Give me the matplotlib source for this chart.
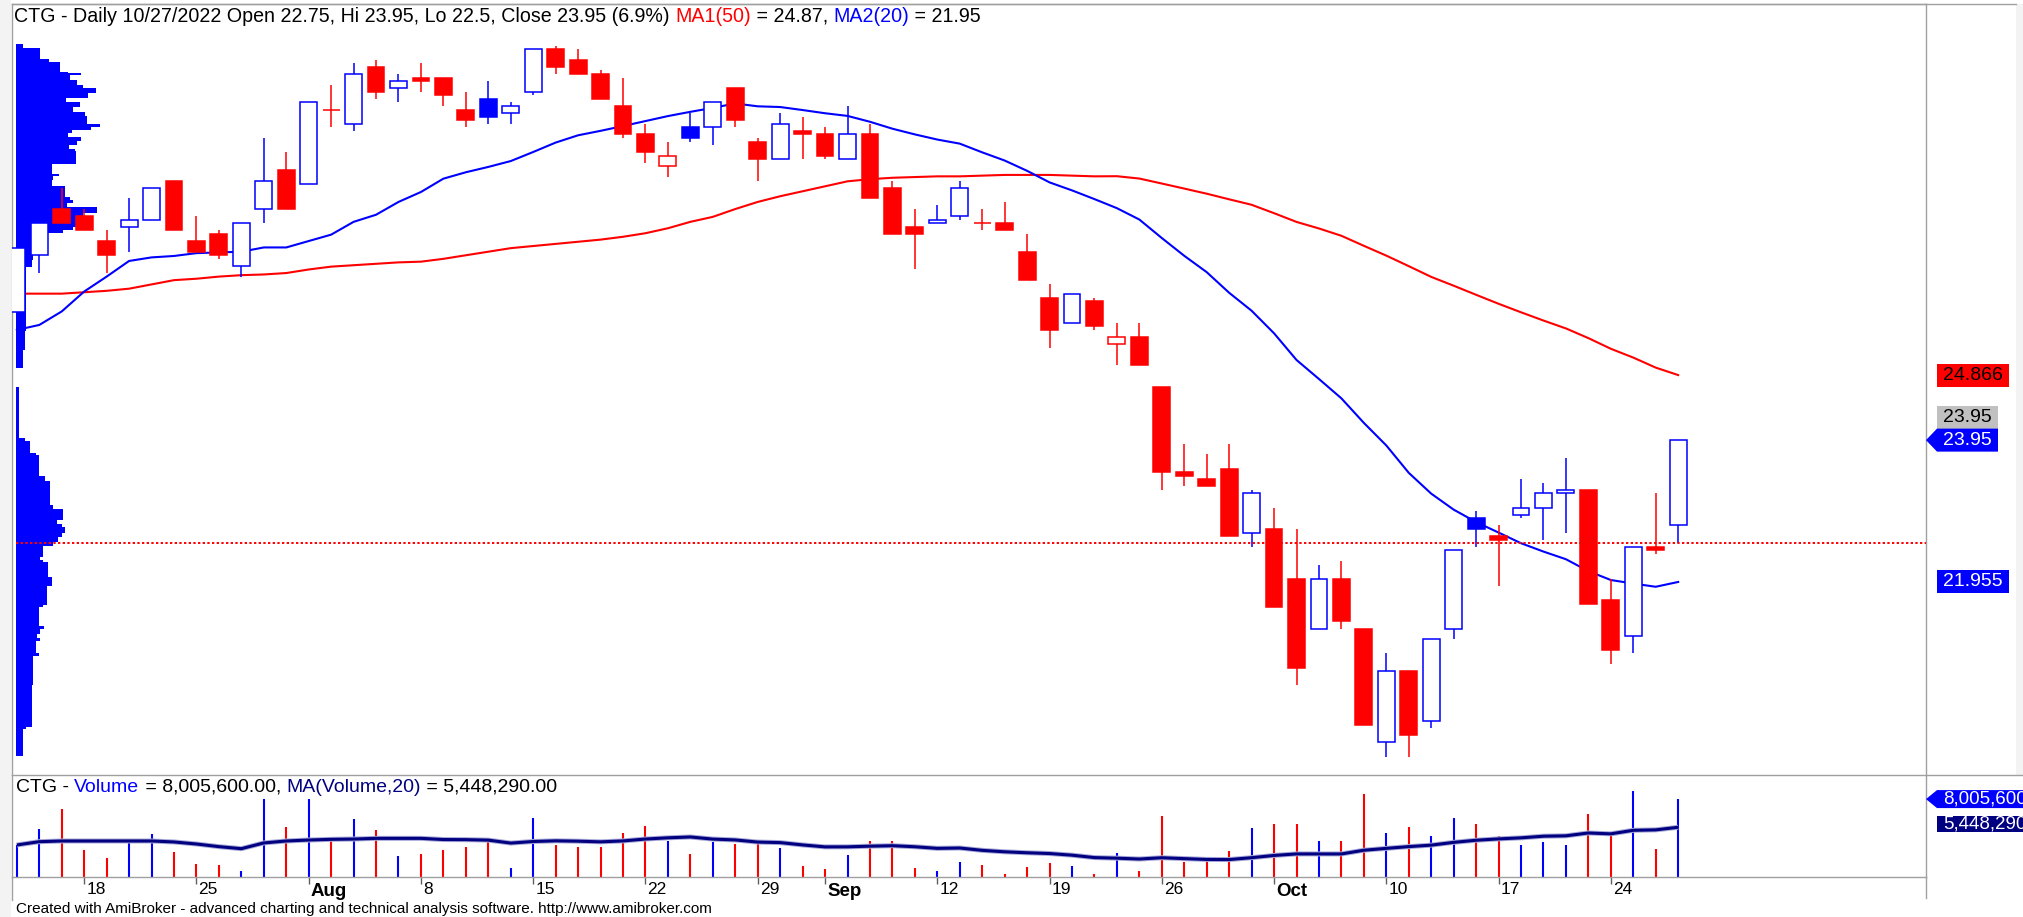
import matplotlib
matplotlib.use('Agg')
import matplotlib.pyplot as plt
import numpy as np
import pandas as pd
from matplotlib.patches import Rectangle, Polygon
from matplotlib.lines import Line2D
from matplotlib.transforms import IdentityTransform, blended_transform_factory

W, H = 2023, 917
RED = '#FF0000'
BLUE = '#0000FF'
NAVY = '#000080'
FRAME = '#A0A0A0'
FONT = 'Liberation Sans'

# trading days (Sep 1-2 were holidays)
dates = pd.bdate_range('2022-07-13', '2022-10-27')
dates = dates[~dates.isin(pd.to_datetime(['2022-09-01', '2022-09-02']))]

opens = [25.75, 26.55, 27.2, 27.1, 26.75, 26.95, 27.05, 27.6, 26.75, 26.85, 26.4,
         27.2, 27.75, 27.55, 28.6, 28.4, 29.2, 28.9, 29.05, 29.05, 28.6,
         28.75, 28.55, 28.85, 29.45, 29.3, 29.1, 28.65, 28.25, 27.8, 28.35,
         28.35, 28.9, 28.15, 27.9, 28.3, 28.25, 27.9, 28.25, 27.5, 26.95,
         27.0, 27.1, 27.0, 27.0, 26.6, 25.95, 25.6, 25.9, 25.3, 25.4,
         24.7, 23.5, 23.4, 23.55, 22.65, 22.7, 22.0, 21.3, 22.0, 21.3,
         19.7, 20.7, 20.0, 21.3, 22.85, 22.6, 22.9, 23.0, 23.2, 23.25,
         21.7, 21.2, 22.45, 22.75]
highs = [26.65, 27.0, 27.5, 27.2, 26.9, 27.35, 27.5, 27.6, 27.1, 26.9, 27.0,
         28.2, 28.0, 28.7, 28.95, 29.25, 29.3, 29.1, 29.25, 29.05, 28.85,
         29.0, 28.7, 29.45, 29.5, 29.45, 29.15, 29.05, 28.4, 28.15, 28.55,
         28.7, 28.9, 28.2, 28.55, 28.5, 28.35, 28.65, 28.4, 27.6, 27.2,
         27.25, 27.6, 27.2, 27.3, 26.85, 26.15, 26.0, 25.95, 25.6, 25.6,
         24.7, 23.9, 23.75, 23.9, 23.25, 23.0, 22.7, 22.2, 22.25, 21.3,
         20.95, 20.7, 21.15, 22.4, 22.95, 22.75, 23.4, 23.35, 23.7, 23.25,
         22.0, 22.45, 23.2, 23.95]
lows = [25.75, 26.3, 27.0, 26.9, 26.3, 26.6, 27.05, 26.9, 26.6, 26.5, 26.25,
        27.0, 27.2, 27.55, 28.35, 28.3, 28.75, 28.7, 28.85, 28.65, 28.35,
        28.4, 28.4, 28.8, 29.1, 29.1, 28.75, 28.2, 27.85, 27.65, 28.15,
        28.1, 28.35, 27.6, 27.9, 27.9, 27.9, 27.9, 27.35, 26.85, 26.35,
        27.0, 27.05, 26.9, 26.9, 26.2, 25.25, 25.6, 25.5, 25.0, 25.0,
        23.25, 23.3, 23.3, 22.6, 22.45, 21.6, 20.5, 21.3, 21.3, 19.95,
        19.5, 19.5, 19.9, 21.15, 22.45, 21.9, 22.85, 22.55, 22.65, 21.65,
        20.8, 20.95, 22.35, 22.5]
closes = [26.65, 27.0, 27.0, 26.9, 26.55, 27.05, 27.5, 26.9, 26.6, 26.55, 27.0,
          27.6, 27.2, 28.7, 28.6, 29.1, 28.85, 29.0, 29.0, 28.8, 28.45,
          28.5, 28.65, 29.45, 29.2, 29.1, 28.75, 28.25, 28.0, 27.95, 28.2,
          28.7, 28.45, 27.9, 28.4, 28.25, 27.95, 28.25, 27.35, 26.85, 26.85,
          27.05, 27.5, 27.0, 26.9, 26.2, 25.5, 26.0, 25.55, 25.4, 25.0,
          23.5, 23.45, 23.3, 22.6, 23.2, 21.6, 20.75, 22.0, 21.4, 19.95,
          20.7, 19.8, 21.15, 22.4, 22.7, 22.55, 23.0, 23.2, 23.25, 21.65,
          21.0, 22.45, 22.4, 23.95]
# volume in millions of shares
volumes = [3.29, 4.90, 6.95, 2.77, 1.92, 3.80, 4.38, 2.60, 1.34, 1.23, 0.62,
           8.01, 5.10, 8.01, 4.04, 5.92, 4.83, 2.16, 2.36, 2.77, 3.05,
           3.90, 0.89, 6.03, 3.29, 3.05, 3.05, 4.49, 5.24, 3.70, 2.36,
           3.63, 3.39, 3.63, 2.95, 1.13, 0.82, 2.26, 3.73, 3.73, 0.89,
           0.62, 1.58, 1.23, 0.31, 1.06, 1.47, 1.13, 0.27, 2.50, 0.62,
           6.27, 1.58, 1.92, 2.71, 5.00, 5.41, 5.41, 3.70, 3.70, 8.49,
           4.49, 5.17, 4.25, 6.03, 5.41, 4.25, 3.29, 3.63, 3.29, 6.47,
           4.49, 8.84, 2.84, 8.0056]

# moving averages before enough history is on the chart
ma50_head = [26.01, 26.01, 26.01, 26.03, 26.05, 26.08, 26.14, 26.2, 26.22, 26.25,
             26.27, 26.28, 26.3, 26.35, 26.39, 26.41, 26.43, 26.45, 26.46, 26.5,
             26.55, 26.6, 26.65, 26.68, 26.71, 26.74, 26.77, 26.81, 26.86, 26.93,
             27.02, 27.09, 27.2, 27.3, 27.38, 27.45, 27.52, 27.59, 27.62, 27.64,
             27.65, 27.66, 27.66, 27.67, 27.68, 27.68, 27.68, 27.67, 27.66]
ma20_head = [25.5, 25.57, 25.76, 26.04, 26.25, 26.47, 26.52, 26.54, 26.58, 26.59,
             26.6, 26.66, 26.66, 26.75, 26.84, 27.02, 27.12, 27.3, 27.44]
volma_head = [3.29, 3.63, 3.70, 3.70, 3.70, 3.70, 3.70, 3.60, 3.39, 3.12,
              2.91, 3.5, 3.70, 3.80, 3.87, 3.90, 3.97, 3.97, 3.97]

# volume-at-price profile: row top price and relative volume
vap_top = [29.52, 29.46, 29.31, 29.27, 29.13, 29.11, 29.08, 29.015, 28.94, 28.90,
           28.83, 28.76, 28.71, 28.64, 28.57, 28.51, 28.40, 28.36, 28.31, 28.27,
           28.21, 28.16, 28.10, 28.05, 28.01, 27.84, 27.70, 27.66, 27.61, 27.52,
           27.37, 27.33, 27.28, 27.23, 27.15, 26.95, 26.91, 26.86, 26.81, 26.62,
           26.48, 26.39, 25.48, 25.22, 24.96, 24.70, 23.975, 23.94, 23.77, 23.74,
           23.44, 23.375, 23.04, 22.98, 22.83, 22.77, 22.73, 22.64, 22.59, 22.52,
           22.46, 22.42, 22.31, 22.27, 22.23, 22.03, 21.90, 21.63, 21.60, 21.34,
           21.29, 21.23, 21.17, 21.12, 20.96, 20.92, 20.76, 20.50, 19.92, 19.88]
vap_vol = [7.3, 24, 33.3, 44, 52.3, 65, 54, 61.3, 67.3, 79.7,
           72.3, 49.7, 64, 56.7, 69, 70.7, 84, 75, 55.7, 52.3,
           65, 61.3, 53.3, 59, 60, 35.7, 43.3, 37.3, 35.7, 49,
           54, 56.7, 50.7, 80.7, 67.3, 57.3, 47.3, 32.3, 30.7, 17.3,
           16.3, 10, 9, 6.7, 0, 3.3, 9, 14, 20, 23.3,
           29, 34, 37.3, 46.7, 41.3, 45.7, 49, 45.7, 42.3, 37.3,
           27.3, 26.7, 24, 27.3, 31.7, 36, 30.7, 26.7, 23.3, 28.3,
           24, 20.7, 24, 20, 23.3, 17.3, 17.3, 15.7, 10, 6.7]
vap_low = 19.51

last_ma50, last_ma20 = 24.866, 21.955
last_vol, last_volma = 8005600.00, 5448290.00

n = len(closes)
xs = np.arange(n)
cl = pd.Series(closes)
ma50 = cl.rolling(50).mean().to_numpy()
ma50[:len(ma50_head)] = ma50_head
ma20 = cl.rolling(20).mean().to_numpy()
ma20[:len(ma20_head)] = ma20_head
volma = pd.Series(volumes).rolling(20).mean().to_numpy()
volma[:len(volma_head)] = volma_head

fig = plt.figure(figsize=(W / 100, H / 100), dpi=100, facecolor='white')
ID = IdentityTransform()

# page background strips
fig.add_artist(Rectangle((0, 0), 11, H, transform=ID, facecolor='#F3F3F3', edgecolor='none', zorder=0))
fig.add_artist(Rectangle((2016, H - 775), 7, 771, transform=ID, facecolor='#F3F3F3', edgecolor='none', zorder=0))

ax_p = fig.add_axes([12 / W, 1 - 775 / H, 1914 / W, 771 / H])
ax_v = fig.add_axes([12 / W, 1 - 877 / H, 1914 / W, 102 / H])

xlim = (-0.216, 85.04)
ax_p.set_xlim(*xlim)
ax_v.set_xlim(*xlim)
ax_p.set_ylim(19.24, 30.084)
ax_v.set_ylim(0, 10.48)

for ax in (ax_p, ax_v):
    ax.set_facecolor('white')
    for s in ax.spines.values():
        s.set_color(FRAME)
        s.set_linewidth(1)
ax_p.spines['bottom'].set_visible(False)
ax_v.spines['top'].set_visible(False)
ax_p.set_xticks([])
ax_p.set_yticks([])
ax_v.set_yticks([])

# volume-at-price profile
prof_tr = blended_transform_factory(ax_p.transAxes, ax_p.transData)
vap_bot = vap_top[1:] + [vap_low]
vmax = max(vap_vol)
for top, bot, v in zip(vap_top, vap_bot, vap_vol):
    if v <= 0:
        continue
    ax_p.add_patch(Rectangle((4 / 1914, bot), v / vmax * 84 / 1914, top - bot,
                             transform=prof_tr, facecolor=BLUE, edgecolor='none', zorder=1))

# moving averages
ax_p.plot(xs, ma50, color=RED, lw=1.5, zorder=2)
ax_p.plot(xs, ma20, color=BLUE, lw=1.5, zorder=2)

# candles
for i in range(n):
    o, h, l, c = opens[i], highs[i], lows[i], closes[i]
    up = i == 0 or c > closes[i - 1]
    col = BLUE if up else RED
    ax_p.vlines(i, l, h, color=col, lw=1.1, zorder=3)
    lo, hi = min(o, c), max(o, c)
    face = 'white' if c > o else col
    ax_p.add_patch(Rectangle((i - 0.375, lo), 0.75, hi - lo, facecolor=face,
                             edgecolor=col, lw=1.1, zorder=4))

# dotted line at last low
ax_p.axhline(lows[-1], xmin=4 / 1914, xmax=1, color=RED, lw=1.4,
             linestyle=(0, (1.2, 1.2)), zorder=5)

# volume panel
vcols = [BLUE if closes[i] > opens[i] else RED for i in range(n)]
ax_v.vlines(xs, 0, volumes, colors=vcols, lw=1.5, zorder=2)
ax_v.plot(xs, volma, color='#A8A8D8', lw=3.6, zorder=3, solid_capstyle='butt')
ax_v.plot(xs, volma, color=NAVY, lw=2.2, zorder=4, solid_capstyle='butt')

# date axis
week = dates.to_period('W')
starts = [i for i in range(1, n) if week[i] != week[i - 1]]
ax_v.set_xticks(starts)
ax_v.set_xticklabels([])
ax_v.tick_params(axis='x', direction='out', length=5, width=1, color='#606060')
fig.canvas.draw()
prev_month = dates[0].month
for i in starts:
    d = dates[i]
    xd = ax_v.transData.transform((i, 0))[0] + 2
    if d.month != prev_month:
        fig.text(xd, H - 891, d.strftime('%b'), transform=ID, ha='left', va='center',
                 fontsize=13.5, fontweight='bold', family=FONT)
    else:
        fig.text(xd, H - 890, str(d.day), transform=ID, ha='left', va='center',
                 fontsize=12.5, family=FONT)
    prev_month = d.month

# frame lines outside axes
def hline(x0, x1, y):
    fig.add_artist(Line2D([x0, x1], [H - y, H - y], transform=ID, color=FRAME, lw=1))
def vline(x, y0, y1):
    fig.add_artist(Line2D([x, x], [H - y0, H - y1], transform=ID, color=FRAME, lw=1))
hline(12, 2016, 4)
hline(12, 2023, 775)
vline(12, 877, 900)
vline(1926, 877, 898)

renderer = fig.canvas.get_renderer()

def multi(x, y, parts, fs):
    for s, c in parts:
        t = fig.text(x, y, s, color=c, fontsize=fs, family=FONT, transform=ID,
                     ha='left', va='center')
        x = t.get_window_extent(renderer=renderer).x1
    return x

multi(14, H - 16, [('CTG - Daily %s Open %g, Hi %g, Lo %g, Close %g (%.1f%%) '
                    % (dates[-1].strftime('%m/%d/%Y'), opens[-1], highs[-1], lows[-1],
                       closes[-1], (closes[-1] / closes[-2] - 1) * 100), 'black'),
                   ('MA1(50)', RED), (' = %.2f, ' % last_ma50, 'black'),
                   ('MA2(20)', BLUE), (' = %.2f' % last_ma20, 'black')], 14.1)

multi(16, H - 787, [('CTG - ', 'black'), ('Volume', BLUE),
                    (' = {:,.2f}, '.format(last_vol), 'black'),
                    ('MA(Volume,20)', NAVY),
                    (' = {:,.2f}'.format(last_volma), 'black')], 14)

fig.text(16, H - 909, 'Created with AmiBroker - advanced charting and technical analysis software. '
         'http://www.amibroker.com', transform=ID, fontsize=11, family=FONT,
         ha='left', va='center')

# value labels on the right
def label(ax, value, text, face, tcolor, xl, xr, h, fs, arrow=False, dy=0):
    yc = ax.transData.transform((0, value))[1] + dy
    if arrow:
        pts = [(1926, yc), (xl, yc + h / 2), (xr, yc + h / 2), (xr, yc - h / 2), (xl, yc - h / 2)]
    else:
        pts = [(xl, yc - h / 2), (xl, yc + h / 2), (xr, yc + h / 2), (xr, yc - h / 2)]
    fig.add_artist(Polygon(pts, closed=True, transform=ID, facecolor=face,
                           edgecolor='none', zorder=6))
    fig.text(xl + 6, yc, text, transform=ID, color=tcolor, fontsize=fs, family=FONT,
             ha='left', va='center', zorder=7)

label(ax_p, ma50[-1], '%.3f' % last_ma50, RED, 'black', 1937, 2009, 23, 14)
label(ax_p, closes[-1], '%.2f' % closes[-1], '#C0C0C0', 'black', 1937, 1998, 23, 14, dy=23)
label(ax_p, closes[-1], '%.2f' % closes[-1], BLUE, 'white', 1937, 1998, 23, 14, arrow=True)
label(ax_p, ma20[-1], '%.3f' % last_ma20, BLUE, 'white', 1937, 2009, 23, 14)
label(ax_v, volumes[-1], '{:,.0f}'.format(last_vol), BLUE, 'white', 1937, 2030, 18, 13.5, arrow=True)
label(ax_v, last_volma / 1e6, '{:,.0f}'.format(last_volma), NAVY, 'white', 1937, 2030, 16, 13.5)

fig.savefig('out.png', dpi=100, facecolor='white')
